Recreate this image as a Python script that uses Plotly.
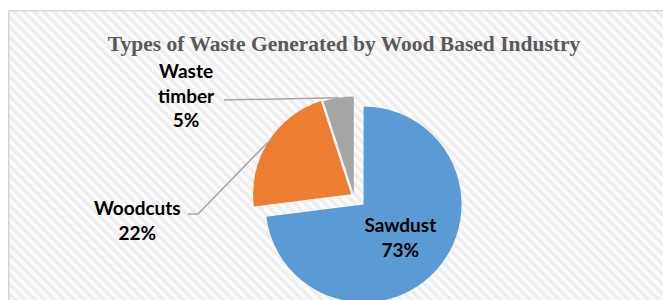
import base64, math
import plotly.graph_objects as go

# ---- data ----
categories = ["Sawdust", "Woodcuts", "Waste timber"]
values = [73, 22, 5]
colors = ["#5B9BD5", "#ED7D31", "#A5A5A5"]
pulls = [0.13, 0.035, 0.015]
title_text = "Types of Waste Generated by Wood Based Industry"

# ---- layout geometry (screen pixels; page body has an 8px margin) ----
OFF = 8
W, H = 663, 300
CX, CY, R = 354, 196, 98
maxpull = max(pulls)
box = 2 * R * (1 + maxpull)

def px(x, y):
    """screen pixel -> paper fraction"""
    return (x - OFF) / W, 1 - (y - OFF) / H

dom_x = [px(CX - box / 2, 0)[0], px(CX + box / 2, 0)[0]]
dom_y = [px(0, CY + box / 2)[1], px(0, CY - box / 2)[1]]

total = sum(values)
pcts = [round(v / total * 100) for v in values]

mids = []
acc = 0
for v in values:
    mids.append((acc + v / 2) / total * 2 * math.pi)
    acc += v

def arc_point(i):
    a = mids[i]
    dx, dy = math.sin(a), -math.cos(a)
    ox = CX + pulls[i] * R * dx
    oy = CY + pulls[i] * R * dy
    return ox + R * dx, oy + R * dy

FS = 19
texts = [f"<b>{categories[0]}</b><br><b>{pcts[0]}%</b>", "", ""]
fig = go.Figure(go.Pie(
    labels=categories, values=values, sort=False, direction="clockwise",
    rotation=0, pull=pulls,
    marker=dict(colors=colors, line=dict(width=0)),
    texttemplate=texts, textposition=["inside", "none", "none"],
    insidetextorientation="horizontal",
    insidetextfont=dict(family="Lato", size=FS, color="#000000"),
    domain=dict(x=dom_x, y=dom_y), showlegend=False, hoverinfo="label+percent",
))

# background: striped panel with light border (drawn larger than the page)
IW, IH = W + 40, H + 40
svg = f'''<svg xmlns="http://www.w3.org/2000/svg" width="{IW}" height="{IH}" viewBox="0 0 {IW} {IH}">
<defs><pattern id="p" width="7" height="7" patternUnits="userSpaceOnUse" patternTransform="rotate(-45)">
<rect x="0" y="0" width="7" height="7" fill="#fbfbfb"/>
<rect x="0" y="0" width="3.4" height="7" fill="#ededed"/></pattern></defs>
<rect x="0" y="0" width="{IW}" height="{IH}" fill="#ffffff"/>
<rect x="0.75" y="2.75" width="{IW+20}" height="{IH+20}" fill="url(#p)" stroke="#d6d6d6" stroke-width="1.5"/>
</svg>'''
src = "data:image/svg+xml;base64," + base64.b64encode(svg.encode()).decode()
fig.add_layout_image(dict(source=src, xref="paper", yref="paper", x=0, y=1,
                          sizex=IW / W, sizey=IH / H, sizing="stretch", layer="below",
                          xanchor="left", yanchor="top"))

lab_font = dict(family="Lato", size=FS, color="#000000")
# Waste timber label + leader
ex, ey = arc_point(2)
x0, y0 = px(224, 100)
x1, y1 = px(ex, ey)
fig.add_shape(type="line", xref="paper", yref="paper", x0=x0, y0=y0, x1=x1, y1=y1,
              line=dict(color="#a6a6a6", width=1.5))
ax, ay = px(186, 95)
fig.add_annotation(xref="paper", yref="paper", x=ax, y=ay, showarrow=False,
                   xanchor="center", yanchor="middle",
                   text="<b>" + categories[2].replace(" ", "<br>") + f"<br>{pcts[2]}%</b>",
                   font=lab_font, align="center")
# Woodcuts label + leader
ex, ey = arc_point(1)
pts = [(188, 214), (198, 214), (ex, ey)]
path = "M " + " L ".join(f"{px(a, b)[0]},{px(a, b)[1]}" for a, b in pts)
fig.add_shape(type="path", xref="paper", yref="paper", path=path,
              line=dict(color="#a6a6a6", width=1.5))
ax, ay = px(137, 220)
fig.add_annotation(xref="paper", yref="paper", x=ax, y=ay, showarrow=False,
                   xanchor="center", yanchor="middle",
                   text=f"<b>{categories[1]}<br>{pcts[1]}%</b>",
                   font=lab_font, align="center")

tx, ty = px(344, 43)
fig.update_layout(
    width=W, height=H, margin=dict(l=0, r=0, t=0, b=0),
    paper_bgcolor="#ffffff", plot_bgcolor="rgba(0,0,0,0)",
    title=dict(text=f"<b>{title_text}</b>", x=tx, xanchor="center",
               y=ty, yanchor="middle", yref="container", xref="container",
               font=dict(family="Liberation Serif", size=21.5, color="#595959")),
)
fig.write_html("out.html",
               post_script="document.documentElement.style.overflow='hidden';"
                           "document.body.style.overflow='hidden';")
